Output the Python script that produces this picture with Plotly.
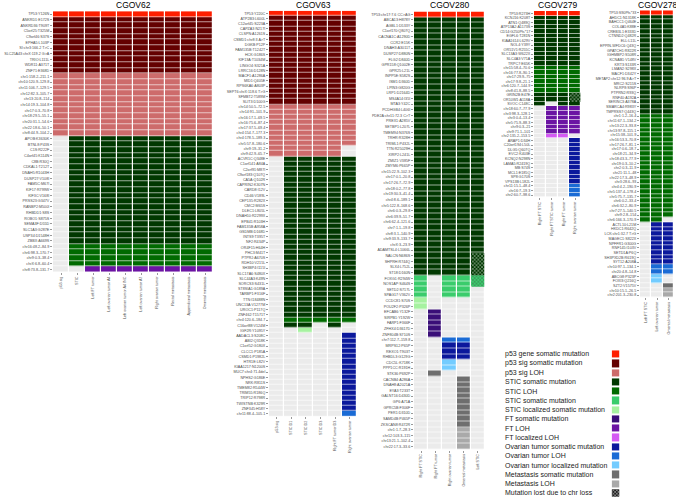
import plotly.graph_objects as go

# ---------------- legend / categories ----------------
LEGEND_LABELS = [
    "p53 gene somatic mutation", "p53 sig somatic mutation", "p53 sig LOH",
    "STIC somatic mutation", "STIC LOH", "STIC somatic mutation",
    "STIC localized somatic mutation", "FT somatic mutation", "FT LOH",
    "FT localized LOH", "Ovarian tumor somatic mutation", "Ovarian tumor LOH",
    "Ovarian tumor localized mutation", "Metastasis somatic mutation",
    "Metastasis LOH", "Mutation lost due to chr loss",
]
LEGEND_CODES = ["R", "r", "p", "G", "g", "m", "l", "F", "f", "h", "O", "o", "b", "M", "k", "X"]
LEGEND_COLORS = ["#FF1E00", "#640000", "#CD6B6B", "#003800", "#006A00", "#3ACC6C",
                 "#A6F2A0", "#3A0E78", "#6B14A3", "#D45AF3", "#0B189C", "#1A6BD5",
                 "#73CCFF", "#6E6E6E", "#A9A9A9", "#1E1E1E"]
NONE_COLOR = "#EBEBEB"
# hatched codes: mutation lost due to chr loss, drawn over a base category
HATCH_BASE = {"x": "G", "y": "m", "X": "X"}

# ---------------- CGOV62 ----------------
COLS_62 = ["p53 sig", "STIC", "Left FT tumor", "Left ovarian tumor A4",
           "Left ovarian tumor A4 INC", "Left ovarian tumor A7", "Right ovarian tumor",
           "Rectal metastasis", "Appendiceal metastasis", "Omental metastasis"]
ROWS_62 = [
    "TP53:Y126N",
    "ANKRD1:E172S", "ANKRD36:T909T", "C5orf25:T325M", "C9orf46:S37S", "EPHA5:L103P",
    "SI:chr3:166.2 T>C", "SLC25A43:chrX:119.2 G>A", "TRIO:L111L", "WDR11:A371T", "ZNF71:E368D",
    "chr1:158.2–211.1", "chr10:120.9–129.8", "chr11:106.7–129.5", "chr12:82.3–105.7",
    "chr13:20.8–114", "chr14:19.3–104.8", "chr17:0.3–70.8", "chr18:29.5–55.1",
    "chr20:31.1–54.6", "chr22:18.6–50.1", "chr8:44.9–104.2",
    "APOB:K3630K", "BTNL8:P43S", "C1S:R222F", "C4orf45:K114N", "C8B:R30Q", "CDKAL1:T212T",
    "DNAH5:R1043H", "DUSP27:V108I", "FAM5C:M67I", "KIF17:R799W", "KIF3C:V168I",
    "PRSS23:G347V", "RANBP2:M500I", "RHBDD1:S8S", "ROBO1:S875S", "SEMA3F:D55D",
    "SLC1A3:G287E", "USP34:D1548H", "ZBBX:A669S",
    "chr16:48.2–84.9", "chr6:98.3–170.7", "chr9:0.3–38.4", "chrX:6.8–60.4",
    "chr8:73.8–131.7",
]
CELLS_62 = [
    "RRRRRRRRRR",
    "rrrrrrrrrr", "rrrrrrrrrr", "rrrrrrrrrr", "rrrrrrrrrr", "rrrrrrrrrr",
    "rrrrrrrrrr", "rrrrrrrrrr", "rrrrrrrrrr", "rrrrrrrrrr", "rrrrrrrrrr",
    "pppppppppp", "pppppppppp", "pppppppppp", "pppppppppp", "pppppppppp", "pppppppppp",
    "pppppppppp", "pppppppppp", "pppppppppp", "pppppppppp", "pppppppppp",
    ".GGGGGGGGG", ".GGGGGGGGG", ".GGGGGGGGG", ".GGGGGGGGG", ".GGGGGGGGG",
    ".GGGGGGGGG", ".GGGGGGGGG", ".GGGGGGGGG", ".GGGGGGGGG", ".GGGGGGGGG",
    ".GGGGGGGGG", ".GGGGGGGGG", ".GGGGGGGGG", ".GGGGGGGGG", ".GGGGGGGGG",
    ".GGGGGGGGG", ".GGGGGGGGG", ".GGGGGGGGG", ".GGGGGGGGG",
    ".ggggggggg", ".ggggggggg", ".ggggggggg", ".ggggggggg",
    "..ffffffff",
]

# ---------------- CGOV63 ----------------
COLS_63 = ["p53 sig", "STIC D1", "STIC D2", "STIC D3", "Right FT tumor D3", "Right ovarian tumor"]
ROWS_63 = [
    "TP53:Y220C",
    "ATP2B3:L600L", "C12orf45:S223A", "CAPZA3:N217I", "CLSPN:A1261S", "CSMD1:chr8:3 A>T",
    "DGKB:P12P", "FAM135B:T1242T", "HCK:G186S", "KIF13A:T1034M", "LINGO4:S321A",
    "LRRC16:D128N", "MACF1:A1286A", "MID1:Q405E", "RPS6KA6:A803P", "SEPT6:chrX:118.6 T>G",
    "SFMBT2:T589M", "SLIT3:D100G",
    "chr14:50.5–72.5", "chr14:91–101.9", "chr16:17.1–69.5", "chr16:75.6–87.4",
    "chr17:37.5–69.4", "chr4:154.7–177.3", "chr4:178.5–189.3", "chr5:57.8–180.6",
    "chr9:19–31.2", "chr9:42.9–65.7",
    "ACVR1C:Q348E", "C1orf141:A84A", "C2orf91:M87I", "C9orf183:Q107Q", "CA5A:Q102R",
    "CAPRIN2:K307N", "CARD8:I12V", "CD46:V189L", "CEP135:R282X", "CMC2:M65S",
    "DLEC1:L805L", "DNAH10:R2299X", "EPB41:R103H", "FAM135B:A958A", "GSDMB:D168D",
    "INTS9:T395T", "NF2:R434P", "OR4F15:H64H", "PHC3:M41T", "PTPRJ:A670S",
    "RDH10:V215L", "SH3BP4:I115I", "SLC17A6:S480X", "SLC44A3:K49N", "SORCS3:S431L",
    "ST8SIA1:G189A", "TARBP1:F316F", "TTN:I18488N", "UNC13A:V1277M", "UROC1:P117Q",
    "ZNF462:T1571T",
    "chr4:120.6–184.7", "C16orf88:V124M", "IGF2R:Y1095Y",
    "AADACL3:S208C", "ABI2:Q318K", "C1orf52:G180X", "CLCC1:P185A", "CSMD1:P1982L",
    "HTR1E:L82V", "KIAA1217:N1200S", "MUC7:chr4:71.4del", "NPHS2:G186E", "NRK:R811S",
    "TMEM82:R544W", "TRIM55:R186Q", "TRIP12:R798R", "TWISTNB:K329R", "ZNF345:H58Y",
    "chr11:88.4–105.1",
]
CELLS_63 = [
    "RRRRRR",
    "rrrrrr", "rrrrrr", "rrrrrr", "rrrrrr", "rrrrrr", "rrrrrr", "rrrrrr", "rrrrrr", "rrrrrr",
    "rrrrrr", "rrrrrr", "rrrrrr", "rrrrrr", "rrrrrr", "rrrrrr", "rrrrrr", "rrrrrr",
    "pppppp", "pppppp", "pppppp", "pppppp", "pppppp", "pppppp", "pppppp", "pppppp",
    "ppppp.", "ppppp.",
    ".GGGGG", ".GGGGG", ".GGGGG", ".GGGGG", ".GGGGG", ".GGGGG", ".GGGGG", ".GGGGG",
    ".GGGGG", ".GGGGG", ".GGGGG", ".GGGGG", ".GGGGG", ".GGGGG", ".GGGGG", ".GGGGG",
    ".GGGGG", ".GGGGG", ".GGGGG", ".GGGGG", ".GGGGG", ".GGGGG", ".GGGGG", ".GGGGG",
    ".GGGGG", ".GGGGG", ".GGGGG", ".GGGGG", ".GGGGG", ".GGGGG", ".GGGGG",
    ".ggggg", ".GG.G.", "..l...",
    ".....O", ".....O", ".....O", ".....O", ".....O", ".....O", ".....O", ".....O",
    ".....O", ".....O", ".....O", ".....O", ".....O", ".....O", ".....O",
    ".....o",
]

# ---------------- CGOV280 ----------------
COLS_280 = ["Right FT STIC", "Right FT tumor", "Right ovarian tumor", "Omental metastasis", "Left STIC"]
ROWS_280 = [
    "TP53:chr17:7.6 CC>AG",
    "ABCA13:H878Y", "AGBL1:D533Y", "C1orf170:Q807Q", "CACNA1C:A1290D", "CCR2:E15K",
    "DNAH3:A3011T", "DUSP27:D880N", "FLG2:D840D", "GPR158:Q1002E", "GPR25:L21L",
    "INPP5E:S582S", "ISM1:D360D", "LPIN3:G820G", "LRP1:D2164D", "MS4A14:I35I",
    "MTA3:Y42C", "PCDHGB4:L406I", "PDE2A:chr11:72.3 C>T", "PREX1:A285V", "SETBP1:L207L",
    "TMEM94:N376S", "TRHR:R328H", "TRIML1:P432L", "TTN:R25029H", "XIRP2:L241L",
    "ZMIZ1:V385F", "ZMYM6:P665P",
    "chr15:22.9–102.3", "chr17:0.1–20.8", "chr17:26.7–72.9", "chr18:0.2–77.8",
    "chr19:30.3–41.4", "chr4:8.6–189.1", "chr5:122.8–168.6", "chr6:0.3–29.8",
    "chr6:39.9–51.7", "chr6:62.4–121.6", "chr7:1.1–19.8", "chr8:3.1–140.9",
    "chr9:33.9–133.7", "chrX:3–23.9",
    "ADAMTSL4:L1066L", "NALCN:N686S", "SHPRH:R744Q", "SLX4:L752L", "ST18:D160N",
    "FOXG1:R294W", "NOS1AP:S464S", "SETD2:S717L", "SPAG17:V362V",
    "CCDC81:S70S", "POU2F2:P326P",
    "EFCAB6:Y132F", "SIRPB1:Y192W", "FARP1:F366F", "ZFHX4:D3617D", "ZNF804B:S710S",
    "chr7:112.7–159.8",
    "MRPS12:P65P", "REXO1:T903T", "RHBDL3:G129G",
    "CDC5L:K718K", "PPP1CC:R191H",
    "STK36:P692P",
    "CACNB4:A286A", "DNAH8:A2021A", "EYA3:T233T", "GALNT16:D430D", "GP6:A71A",
    "GPRC5B:F306F", "PER1:D310D", "SAMD4B:P465P", "ZKSCAN8:R472R",
    "chr1:1.7–28.3", "chr12:103.3–115", "chr13:21.1–102.4", "chr22:17.3–33.6",
]
CELLS_280 = [
    "RRRRR",
    "GGGGG", "GGGGG", "GGGGG", "GGGGG", "GGGGG", "GGGGG", "GGGGG", "GGGGG", "GGGGG",
    "GGGGG", "GGGGG", "GGGGG", "GGGGG", "GGGGG", "GGGGG", "GGGGG", "GGGGG", "GGGGG",
    "GGGGG", "GGGGG", "GGGGG", "GGGGG", "GGGGG", "GGGGG", "GGGGG", "GGGGG", "GGGGG",
    "GGGGG", "GGGGG", "GGGGG", "GGGGG", "GGGGG", "GGGGG", "GGGGG", "GGGGG", "GGGGG",
    "GGGGG", "GGGGG", "GGGGG", "GGGGG", "GGGGG",
    "GGGGG", "GGGGx", "GGGGx", "GGGGx", "GGGGx",
    "m.mmy", "m.mmy", "m.mm.", "m.mm.",
    "l....", "l....",
    ".F...", ".F...", ".F...", ".F...", ".F...",
    "..oo.",
    "..OO.", "..OO.", "..OO.",
    "..b..", "..b..",
    ".M...",
    "...M.", "...M.", "...M.", "...M.", "...M.", "...M.", "...M.", "...M.", "...M.",
    "...k.", "...k.", "...k.", "...k.",
]

# ---------------- CGOV279 ----------------
COLS_279 = ["Right FT STIC", "Right FT STIC tumor", "Right FT tumor", "Right ovarian tumor"]
ROWS_279 = [
    "TP53:R273H",
    "KCNJ16:K208T", "ATN1:Q489Q", "ATP13A2:A1173S", "CD14:G250Pfs*17", "EGFL6:T281N",
    "KIAA1614:L629V", "NOL4:Y39Y", "OR51V1:R255C", "SLC13A3:W622X", "SLC4A3:V71A",
    "TRPC7:E65K",
    "chr15:58.4–70.6", "chr16:77.8–90.1", "chr17:29.9–75", "chr17:9.8–21.1",
    "chr6:120.7–144.9", "chr8:41.8–88.5",
    "GRIN2B:E47E", "OR10W1:A118A", "SVOC:C148C",
    "chr18:60.7–77.9", "chr3:98.3–128.1", "chr3:0.4–13.4", "chr5:75.9–88.3",
    "chr9:0.3–21", "chr9:71.1–101",
    "chr2:135.2–153.5",
    "ARAP1:D34H", "C20orf194:L50L", "DLG5:Q607Q", "EVC2:K403E", "KCNQ2:N298N",
    "LAMA5:R2419Q", "MB:S74S", "MCL1:E185Q", "SP8:G170S", "VPS13B:L182L",
    "chr11:15.1–48.4", "chr16:7–19.3", "chr2:60.7–98.6",
]
CELLS_279 = [
    "RRRR",
    "GGGG", "GGGG", "GGGG", "GGGG", "GGGG", "GGGG", "GGGG", "GGGG", "GGGG", "GGGG", "GGGG",
    "gggg", "gggg", "gggg", "gggg", "gggg", "gggg",
    "GGGx", "GGGx", "G.GG",
    ".fff", ".fff", ".fff", ".fff", ".fff", ".fff",
    ".hh.",
    "...O", "...O", "...O", "...O", "...O", "...O", "...O", "...O", "...O", "...O",
    "...o", "...o", "...o",
]

# ---------------- CGOV278 ----------------
COLS_278 = ["Left FT STIC", "Left ovarian tumor", "Omental metastasis"]
ROWS_278 = [
    "TP53:S90Pfs*33",
    "AHDC1:N1318K", "BAHCC1:Q464E", "COL4A5:K88E", "CREB3L1:E333D", "CTNND2:Q482R",
    "ELL:L11L", "EPPIN-WFDC6:Q43Q", "GPATCH1:R822R", "IGHMBP2:S508R", "KCNAB1:V148V",
    "KRT3:S133R", "LMAN2:S298X", "MACF1:D342Y", "METAP2:chr12:96.9 A>T", "MRC2:S215S",
    "NLRP8:S96P", "PTPRN2:R93Q", "RNF40:A192A", "SERINC3:A378A", "SMARCA4:R983Y",
    "TMPRSS7:Q443Q",
    "chr1:1.2–16.4", "chr11:67.1–134.2", "chr13:22.3–93.8", "chr13:97.8–115.1",
    "chr15:38–101.9", "chr16:53.3–70.8", "chr17:26.7–81.1", "chr17:0.6–18.7",
    "chr18:21–34.9", "chr18:43.3–77.9", "chr19:0.3–10.2", "chr2:0.3–11.9",
    "chr21:11.1–48", "chr22:17.3–48.9", "chr3:28.6–93", "chr4:4.2–190.9",
    "chr5:137.4–178.4", "chr5:75.7–135.7", "chr6:0.2–33.4", "chr6:32.2–80.9",
    "chr7:27.5–140.5", "chr9:2.8–154",
    "chr6:166.3–170.9",
    "ACTL10:L21M", "HKDC1:R642Q", "LCK:chr1:32.7 T>G", "MAGEC1:S822X", "NPFFR1:G300G",
    "RNF145:I103V", "SETD1A:P6Q", "SH3PXD2B:R619Q", "SYT12:A208A",
    "chr10:97.1–134.1", "chr20:4.8–14.8",
    "ABCG8:P323P", "FOXI3:Q216Q",
    "SZT2:V1575V",
    "chr10:15.1–26.5", "chr2:201.3–230.8",
]
CELLS_278 = [
    "RRR",
    "GGG", "GGG", "GGG", "GGG", "GGG", "GGG", "GGG", "GGG", "GGG", "GGG", "GGG",
    "GGG", "GGG", "GGG", "GGG", "GGG", "GGG", "GGG", "GGG", "GGG", "GGG",
    "ggg", "ggg", "ggg", "ggg", "ggg", "ggg", "ggg", "ggg", "ggg", "ggg", "ggg",
    "ggg", "ggg", "ggg", "ggg", "ggg", "ggg", "ggg", "ggg", "ggg", "ggg", "ggg",
    "gg.",
    ".OO", ".OO", ".OO", ".OO", ".OO", ".OO", ".OO", ".OO", ".OO",
    ".oo", ".oo",
    ".b.", ".b.",
    "..M",
    "..k", "..k",
]

PANELS = [
    ("CGOV62", ROWS_62, COLS_62, CELLS_62),
    ("CGOV63", ROWS_63, COLS_63, CELLS_63),
    ("CGOV280", ROWS_280, COLS_280, CELLS_280),
    ("CGOV279", ROWS_279, COLS_279, CELLS_279),
    ("CGOV278", ROWS_278, COLS_278, CELLS_278),
]

# ---------------- layout geometry (pixels) ----------------
W, H = 676, 498
PANEL_BOX = [  # left, right, top, bottom
    (53, 213, 11.2, 272.1),
    (269, 357, 10.7, 416.3),
    (414, 485, 11.5, 449.5),
    (534, 581, 11.0, 197.3),
    (640, 674, 10.3, 297.4),
]
LEGEND_BOX = (611.7, 619.3, 349.4, 497.6)
LEGEND_TEXT_X = 503
FONT = "Liberation Sans, Arial, sans-serif"
TICK_FONT_SIZE = 3.7

# colour scale: index 0 = no mutation, 1..16 = legend categories
ALL_COLORS = [NONE_COLOR] + LEGEND_COLORS
NCAT = len(ALL_COLORS)
colorscale = []
for i, c in enumerate(ALL_COLORS):
    colorscale.append([i / NCAT, c])
    colorscale.append([(i + 1) / NCAT, c])
CODE_Z = {".": 0}
for i, c in enumerate(LEGEND_CODES):
    CODE_Z[c] = i + 1
for h, base in HATCH_BASE.items():
    CODE_Z.setdefault(h, CODE_Z[base])


def xdom(a, b):
    return [a / W, b / W]


def ydom(top, bottom):
    return [1 - bottom / H, 1 - top / H]


fig = go.Figure()
layout = dict(
    width=W, height=H, margin=dict(l=0, r=0, t=0, b=0),
    paper_bgcolor="white", plot_bgcolor="white", template="none",
    font=dict(family=FONT), showlegend=False, annotations=[],
)

PATTERN = dict(shape="x", size=2.6, solidity=0.45, fgcolor="rgba(255,255,255,0.4)", fillmode="overlay")

for k, ((name, rows, cols, cells), box) in enumerate(zip(PANELS, PANEL_BOX), start=1):
    z = [[CODE_Z[c] for c in row] for row in cells]
    fig.add_trace(go.Heatmap(
        z=z, x=list(range(len(cols))), y=list(range(len(rows))),
        colorscale=colorscale, zmin=-0.5, zmax=NCAT - 0.5, showscale=False,
        xgap=1.2, ygap=0.6, hoverinfo="skip", xaxis=f"x{k}", yaxis=f"y{k}",
    ))
    hx, hy, hc = [], [], []
    for r, row in enumerate(cells):
        for c, code in enumerate(row):
            if code in HATCH_BASE:
                hx.append(c)
                hy.append(r - 0.5)
                hc.append(ALL_COLORS[CODE_Z[code]])
    if hx:
        fig.add_trace(go.Bar(
            x=hx, y=[1] * len(hx), base=hy, width=0.9,
            marker=dict(color=hc, line=dict(width=0), pattern=PATTERN),
            hoverinfo="skip", xaxis=f"x{k}", yaxis=f"y{k}",
        ))
    left, right, top, bottom = box
    axis_common = dict(
        ticks="outside", ticklen=2, tickwidth=0.5, tickcolor="#333333",
        tickfont=dict(size=TICK_FONT_SIZE, color="#4D4D4D", family=FONT),
        showgrid=False, zeroline=False, showline=False, fixedrange=True, automargin=False,
    )
    layout[f"xaxis{k}"] = dict(
        domain=xdom(left, right), anchor=f"y{k}", range=[-0.5, len(cols) - 0.5],
        tickmode="array", tickvals=list(range(len(cols))), ticktext=cols, tickangle=-90,
        **axis_common,
    )
    layout[f"yaxis{k}"] = dict(
        domain=ydom(top, bottom), anchor=f"x{k}", range=[len(rows) - 0.5, -0.5],
        tickmode="array", tickvals=list(range(len(rows))), ticktext=rows,
        **axis_common,
    )
    layout["annotations"].append(dict(
        text=name, xref="paper", yref="paper", x=(left + right) / 2 / W, y=1 - 4.8 / H,
        xanchor="center", yanchor="middle", showarrow=False,
        font=dict(size=8.5, color="black", family=FONT),
    ))

# ---------------- legend as its own heatmap column ----------------
kL = len(PANELS) + 1
fig.add_trace(go.Heatmap(
    z=[[CODE_Z[c]] for c in LEGEND_CODES], x=[0], y=list(range(len(LEGEND_CODES))),
    colorscale=colorscale, zmin=-0.5, zmax=NCAT - 0.5, showscale=False,
    ygap=2, hoverinfo="skip", xaxis=f"x{kL}", yaxis=f"y{kL}",
))
lx = [0 for c in LEGEND_CODES if c in HATCH_BASE]
ly = [i - 0.5 + 0.12 for i, c in enumerate(LEGEND_CODES) if c in HATCH_BASE]
fig.add_trace(go.Bar(
    x=lx, y=[0.76] * len(lx), base=ly, width=1,
    marker=dict(color=[ALL_COLORS[CODE_Z["X"]]] * len(lx), line=dict(width=0),
                pattern=dict(shape="x", size=2.4, solidity=0.5,
                             fgcolor="rgba(255,255,255,0.7)", fillmode="overlay")),
    hoverinfo="skip", xaxis=f"x{kL}", yaxis=f"y{kL}",
))
L, R, T, B = LEGEND_BOX
layout[f"xaxis{kL}"] = dict(domain=xdom(L, R), anchor=f"y{kL}", range=[-0.5, 0.5],
                            showticklabels=False, showgrid=False, zeroline=False,
                            ticks="", fixedrange=True, automargin=False)
layout[f"yaxis{kL}"] = dict(domain=ydom(T, B), anchor=f"x{kL}",
                            range=[len(LEGEND_CODES) - 0.5, -0.5],
                            showticklabels=False, showgrid=False, zeroline=False,
                            ticks="", fixedrange=True, automargin=False)
for i, lab in enumerate(LEGEND_LABELS):
    layout["annotations"].append(dict(
        text=lab, xref="paper", yref=f"y{kL}", x=LEGEND_TEXT_X / W, y=i,
        xanchor="left", yanchor="middle", showarrow=False,
        font=dict(size=7, color="#222222", family=FONT),
    ))

fig.update_layout(**layout)
# remove the page's default body margin so the figure sits at the window origin
fig.write_html(
    "out.html",
    config={"displayModeBar": False, "staticPlot": True},
    post_script="document.body.style.margin='0';document.body.style.overflow='hidden';",
)
